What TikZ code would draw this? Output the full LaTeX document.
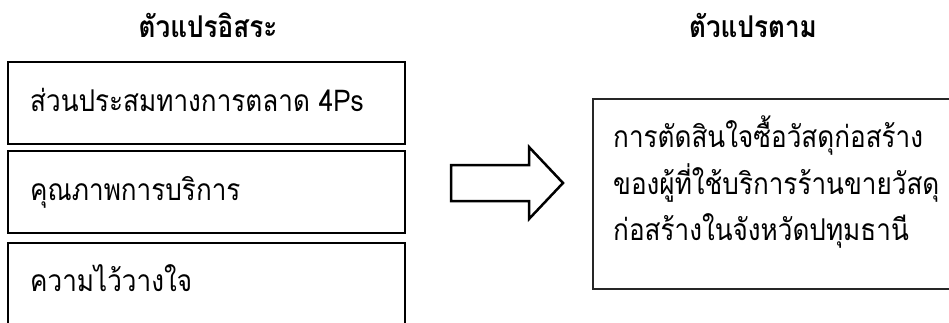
\documentclass[tikz,border=0pt]{standalone}
\usepackage{fontspec}
\newfontfamily\thaifont[Script=Thai, FakeStretch=0.87]{Loma}
\tikzset{
  varbox/.style={draw=black, line width=2.5pt},
  depbox/.style={draw=black!85, line width=1.2pt},
  bigarrow/.style={draw=black, line width=2.5pt, line join=miter, fill=white},
  heading/.style={font=\thaifont\bfseries\fontsize{30}{34}\selectfont, inner sep=0pt},
  boxtext/.style={font=\thaifont\fontsize{30}{34}\selectfont, inner sep=0pt, anchor=base west},
}
\begin{document}
\begin{tikzpicture}[x=1pt, y=-1pt]
  \useasboundingbox (0,0) rectangle (949,322);
  \clip (0,0) rectangle (949,322);

  % headings
  \node[heading, anchor=base] (hindep) at (208,37) {ตัวแปรอิสระ};
  \node[heading, anchor=base] (hdep) at (753,37) {ตัวแปรตาม};

  % independent variable boxes
  \draw[varbox] (8,62) rectangle (405,144);
  \draw[varbox] (8,151) rectangle (405,233);
  \draw[varbox] (8,243) rectangle (405,340);
  \node[boxtext] (v1) at (30,111) {ส่วนประสมทางการตลาด 4Ps};
  \node[boxtext] (v2) at (30,200) {คุณภาพการบริการ};
  \node[boxtext] (v3) at (30,291) {ความไว้วางใจ};

  % block arrow
  \draw[bigarrow] (451,165) -- (529,165) -- (529,147) -- (563,183)
    -- (529,219) -- (529,201) -- (451,201) -- cycle;

  % dependent variable box
  \draw[depbox] (593,99) rectangle (960,289);
  \node[boxtext] (d1) at (613,147) {การตัดสินใจซื้อวัสดุก่อสร้าง};
  \node[boxtext] (d2) at (613,194) {ของผู้ที่ใช้บริการร้านขายวัสดุ};
  \node[boxtext] (d3) at (613,240) {ก่อสร้างในจังหวัดปทุมธานี};
\end{tikzpicture}
\end{document}
